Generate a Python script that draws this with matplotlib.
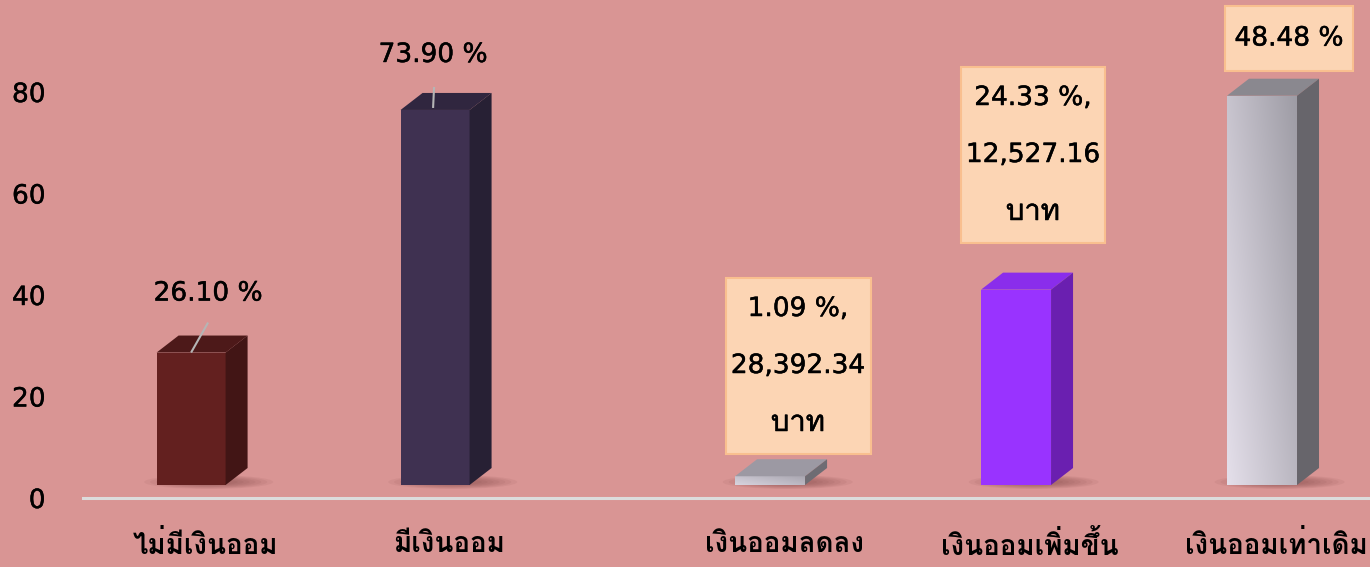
import numpy as np
import matplotlib
matplotlib.use("Agg")
import matplotlib.pyplot as plt
import matplotlib.patheffects as pe
from matplotlib import font_manager, ft2font
from matplotlib.patches import Polygon, Rectangle, Ellipse

# data
left_cats = ['ไม่มีเงินออม', 'มีเงินออม']
left_vals = [26.10, 73.90]
left_labels = ['26.10 %', '73.90 %']

right_cats = ['เงินออมลดลง', 'เงินออมเพิ่มขึ้น', 'เงินออมเท่าเดิม']
right_vals = [1.09, 24.33, 48.48]
right_labels = ['1.09 %,\n28,392.34\nบาท', '24.33 %,\n12,527.16\nบาท', '48.48 %']

y_ticks = [0, 20, 40, 60, 80]

BG = '#D99594'
W, H = 1370, 567


def find_thai_font():
    names = []
    for f in font_manager.fontManager.ttflist:
        try:
            cmap = ft2font.FT2Font(f.fname).get_charmap()
        except Exception:
            continue
        if 0x0E01 in cmap and f.name not in names:
            names.append(f.name)
    return names[0] if names else None


THAI = find_thai_font()
FAM = ['DejaVu Sans', THAI] if THAI else ['DejaVu Sans']
FAM_TH = [THAI, 'DejaVu Sans'] if THAI else ['DejaVu Sans']
STROKE = [pe.withStroke(linewidth=0.35, foreground='black')]


def px_to_data(ax, dx_px, dy_px):
    bb = ax.get_position()
    xl, yl = ax.get_xlim(), ax.get_ylim()
    return (dx_px * (xl[1] - xl[0]) / (bb.width * W),
            dy_px * (yl[1] - yl[0]) / (bb.height * H))


def bar3d(ax, x, v, front, top, side, gradient=None, w_px=69):
    w, _ = px_to_data(ax, w_px, 0)
    ddx, ddy = px_to_data(ax, 22, 17)
    _, base = px_to_data(ax, 0, 13)
    x0, x1 = x - w / 2, x + w / 2
    # soft floor shadow
    sw, sh = px_to_data(ax, w_px + 60, 14)
    _, sy = px_to_data(ax, 0, 3)
    for k in np.linspace(1.0, 0.45, 7):
        ax.add_patch(Ellipse((x + ddx * 0.8, base + sy), sw * k, sh * k,
                             fc='#5c2626', ec='none', alpha=0.06, zorder=1))
    rect = Rectangle((x0, base), w, v, fc=front, ec='none', zorder=3)
    ax.add_patch(rect)
    if gradient is not None:
        g = np.linspace(0, 1, 64)
        gx, gy = np.meshgrid(g, g)
        t = np.clip(0.6 * gx + 0.4 * gy, 0, 1)
        c0 = np.array(matplotlib.colors.to_rgb(gradient[0]))
        c1 = np.array(matplotlib.colors.to_rgb(gradient[1]))
        img = c0[None, None, :] * (1 - t[..., None]) + c1[None, None, :] * t[..., None]
        im = ax.imshow(img, extent=(x0, x1, base, base + v), origin='lower',
                       aspect='auto', zorder=3.5, interpolation='bilinear')
        im.set_clip_path(rect)
    ax.add_patch(Polygon([(x0, base + v), (x1, base + v), (x1 + ddx, base + v + ddy),
                          (x0 + ddx, base + v + ddy)], closed=True, fc=top, ec='none', zorder=4))
    ax.add_patch(Polygon([(x1, base), (x1 + ddx, base + ddy), (x1 + ddx, base + v + ddy),
                          (x1, base + v)], closed=True, fc=side, ec='none', zorder=4))
    return base, ddx


fig = plt.figure(figsize=(13.7, 5.67), dpi=100)
fig.patch.set_facecolor(BG)

Y0, YT = 498, 20
left_ppy, right_ppy = 5.075, 8.03

axL = fig.add_axes([83 / W, (H - Y0) / H, (773 - 83) / W, (Y0 - YT) / H])
axL.set_xlim(-0.443, 2.385)
axL.set_ylim(0, (Y0 - YT) / left_ppy)

axR = fig.add_axes([515 / W, (H - Y0) / H, (1370 - 515) / W, (Y0 - YT) / H])
axR.set_xlim(-1.037, 2.439)
axR.set_ylim(0, (Y0 - YT) / right_ppy)

for ax in (axL, axR):
    ax.set_facecolor('none')
    for s in ['top', 'right', 'left']:
        ax.spines[s].set_visible(False)
    ax.spines['bottom'].set_color('#DCDCDC')
    ax.spines['bottom'].set_linewidth(2.2)
    ax.set_xticks([])

axR.set_yticks([])
axL.set_yticks(y_ticks)
axL.tick_params(axis='y', length=0, pad=27, labelsize=19)
for t in axL.get_yticklabels():
    t.set_family('DejaVu Sans')
    t.set_path_effects([pe.withStroke(linewidth=0.3, foreground='black')])

left_style = [('#63201F', '#4D1919', '#421515', None),
              ('#3F3151', '#30263F', '#272034', None)]
right_style = [('#B9B6C0', '#9C99A3', '#6E6C73', ('#D8D4DF', '#A9A6B0')),
               ('#9933FF', '#8A2DEB', '#6A1FB0', None),
               ('#C9C5D0', '#8A888F', '#67656B', ('#E4DFEA', '#9E9CA5'))]

# leader offsets in px from the bar's front-top centre (x right, y down)
lead_start = [(0, 0), (-2, -2)]
lead_end = [(17, -30), (-1, -23)]
lab_pos = [(17, -59), (-2, -55)]

for i, v in enumerate(left_vals):
    base, ddx = bar3d(axL, i, v, *left_style[i])
    top = base + v
    sx, sy = px_to_data(axL, *lead_start[i])
    ex, ey = px_to_data(axL, *lead_end[i])
    lx, ly = px_to_data(axL, *lab_pos[i])
    axL.plot([i + sx, i + ex], [top - sy, top - ey], color='#B5B5B5', lw=1.5,
             zorder=6, solid_capstyle='butt')
    axL.text(i + lx, top - ly, left_labels[i], ha='center', va='center', fontsize=19,
             family='DejaVu Sans', zorder=7, path_effects=STROKE)
    axL.text(i + ddx / 2 + px_to_data(axL, 3, 0)[0], -47 / left_ppy, left_cats[i],
             ha='center', va='center', fontsize=20, fontweight='bold',
             family=FAM_TH, clip_on=False)

for i, v in enumerate(right_vals):
    base, ddx = bar3d(axR, i, v, *right_style[i], w_px=70)
    axR.text(i + ddx / 2 + px_to_data(axR, 3, 0)[0], -47 / right_ppy, right_cats[i],
             ha='center', va='center', fontsize=20, fontweight='bold',
             family=FAM_TH, clip_on=False)

# boxed labels (right chart), centres in pixels from top-left
box_centers = [(798, 366), (1033, 155), (1289, 38.5)]
box_sizes = [(145, 176), (144, 176), (128, 65)]
line_gap = 57
for lab, (cx, cy), (bw, bh) in zip(right_labels, box_centers, box_sizes):
    fig.patches.append(Rectangle(((cx - bw / 2) / W, (H - cy - bh / 2) / H), bw / W, bh / H,
                                 transform=fig.transFigure, fc='#FCD5B4', ec='#F9BF8F',
                                 lw=1.5, zorder=5))
    lines = lab.split('\n')
    for k, line in enumerate(lines):
        ly = cy + (k - (len(lines) - 1) / 2) * line_gap
        is_thai = any('\u0e00' <= ch <= '\u0e7f' for ch in line)
        fig.text(cx / W, (H - ly) / H, line, ha='center', va='center',
                 fontsize=21 if is_thai else 19, family=FAM_TH if is_thai else FAM,
                 zorder=6, path_effects=STROKE)

fig.savefig('out.png', dpi=100, facecolor=BG)
